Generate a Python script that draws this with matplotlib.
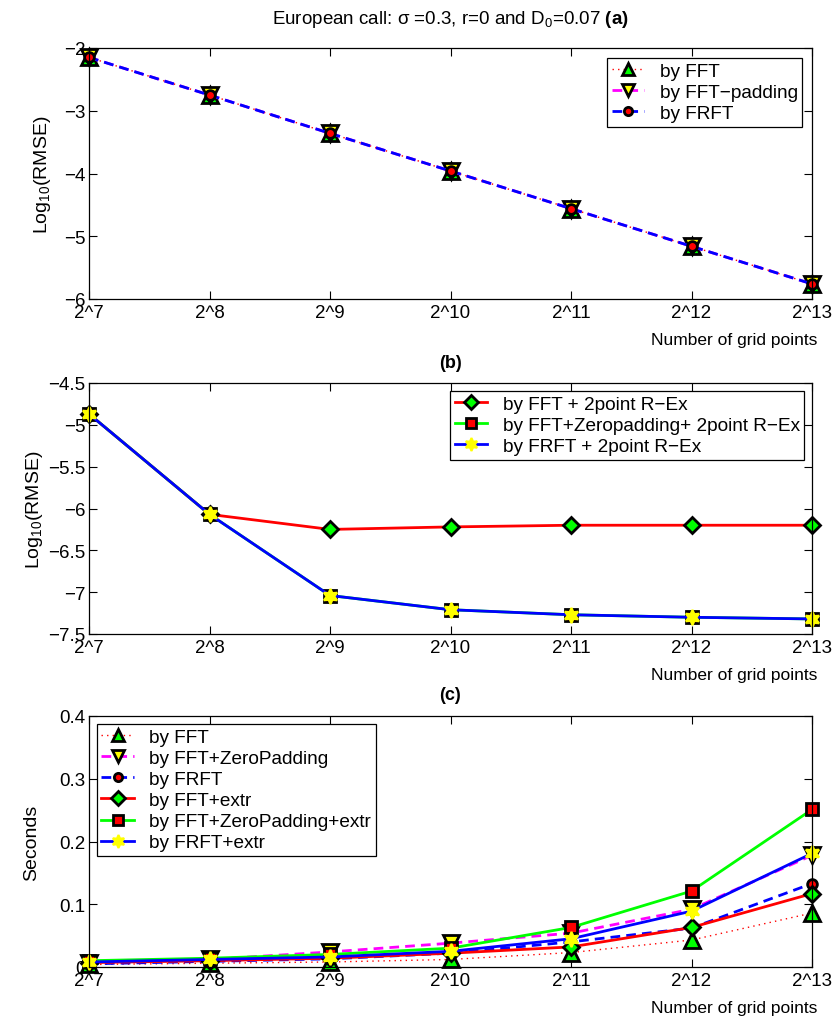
import numpy as np
import matplotlib
matplotlib.use("Agg")
import matplotlib.pyplot as plt

plt.rcParams['font.family'] = ['Liberation Sans', 'DejaVu Sans']
plt.rcParams['mathtext.fontset'] = 'custom'
plt.rcParams['mathtext.rm'] = 'Liberation Sans'
plt.rcParams['mathtext.it'] = 'Liberation Sans:italic'
plt.rcParams['mathtext.bf'] = 'Liberation Sans:bold'
plt.rcParams['lines.dashed_pattern'] = (3.5, 2.2)
plt.rcParams['lines.dotted_pattern'] = (1, 3)

# grid sizes 2^7 .. 2^13
powers = [7, 8, 9, 10, 11, 12, 13]
xlabels = ["2^7", "2^8", "2^9", "2^10", "2^11", "2^12", "2^13"]

# (a) log10 RMSE
rmse_fft = [-2.15, -2.75, -3.36, -3.96, -4.56, -5.16, -5.76]
rmse_pad = [-2.15, -2.75, -3.36, -3.96, -4.56, -5.16, -5.76]
rmse_frft = [-2.15, -2.75, -3.36, -3.96, -4.56, -5.16, -5.76]

# (b) log10 RMSE with 2 point Richardson extrapolation
rex_fft = [-4.87, -6.07, -6.25, -6.22, -6.20, -6.20, -6.20]
rex_pad = [-4.87, -6.07, -7.04, -7.21, -7.27, -7.30, -7.32]
rex_frft = [-4.87, -6.07, -7.04, -7.21, -7.27, -7.30, -7.32]

# (c) cpu time in seconds
t_fft = [0.004, 0.006, 0.008, 0.012, 0.023, 0.043, 0.086]
t_pad = [0.006, 0.012, 0.024, 0.038, 0.054, 0.092, 0.178]
t_frft = [0.005, 0.009, 0.013, 0.022, 0.040, 0.062, 0.133]
t_fft_ex = [0.007, 0.010, 0.014, 0.022, 0.032, 0.063, 0.117]
t_pad_ex = [0.010, 0.014, 0.020, 0.030, 0.063, 0.121, 0.251]
t_frft_ex = [0.008, 0.012, 0.016, 0.025, 0.045, 0.089, 0.181]

W, H = 835, 1020
fig = plt.figure(figsize=(W / 100, H / 100), dpi=100)

left = 89 / W
width = 723 / W
tops = [49, 384, 717]
hgt = 251

MAG = '#ff00ff'
GRN = '#00ff00'
star = (6, 1, 0)  # hexagram
tri = dict(mec='k', mew=2, ms=11)
leg_kw = dict(fontsize=13.7, frameon=True, fancybox=False, edgecolor='k', framealpha=1,
              handlelength=1.7, borderpad=0.25, labelspacing=0.2, handletextpad=0.8,
              markerscale=0.85)


def make_ax(top):
    ax = fig.add_axes([left, 1 - (top + hgt) / H, width, hgt / H])
    ax.set_xlim(7, 13)
    ax.set_xticks(powers)
    ax.set_xticklabels(xlabels)
    ax.tick_params(direction='in', top=True, right=True, length=6, width=0.8,
                   labelsize=13.5)
    ax.tick_params(axis='x', pad=3.5)
    ax.tick_params(axis='y', pad=2.5)
    for s in ax.spines.values():
        s.set_linewidth(0.9)
    ax.text(1.007, -0.163, "Number of grid points", transform=ax.transAxes,
            ha='right', va='center', fontsize=12.5)
    return ax


# (a)
ax1 = make_ax(tops[0])
ax1.plot(powers, rmse_fft, ':', color='r', lw=1, marker='^', mfc=GRN, label='by FFT', **tri)
ax1.plot(powers, rmse_pad, '--', color=MAG, lw=2, marker='v', mfc='yellow', label='by FFT\u2212padding', **tri)
ax1.plot(powers, rmse_frft, '--', color='b', lw=2, marker='o', mfc='r', mec='k', mew=2, ms=7, label='by FRFT')
ax1.set_ylim(-6, -2)
ax1.set_yticks([-6, -5, -4, -3, -2])
ax1.set_ylabel("Log$_{10}$(RMSE)", fontsize=14, labelpad=8)
ax1.legend(loc='upper right', borderaxespad=0.5, **leg_kw).get_frame().set_linewidth(0.9)
fig.text(left + width / 2, 1 - 20 / H,
         "European call: \u03c3 =0.3, r=0 and D$_0$=0.07 $\\bf{(a)}$",
         ha='center', va='center', fontsize=13.5)

# (b)
ax2 = make_ax(tops[1])
ax2.plot(powers, rex_fft, '-', color='r', lw=2, marker='D', mfc=GRN, mec='k', mew=2, ms=8,
         label='by FFT + 2point R\u2212Ex')
ax2.plot(powers, rex_pad, '-', color=GRN, lw=2, marker='s', mfc='r', mec='k', mew=2, ms=8,
         label='by FFT+Zeropadding+ 2point R\u2212Ex')
ax2.plot(powers, rex_frft, '-', color='b', lw=2, marker=star, mfc='yellow', mec='yellow', mew=1.5, ms=11,
         label='by FRFT + 2point R\u2212Ex')
ax2.set_ylim(-7.5, -4.5)
ax2.set_yticks([-7.5, -7, -6.5, -6, -5.5, -5, -4.5])
ax2.set_yticklabels(['\u22127.5', '\u22127', '\u22126.5', '\u22126', '\u22125.5', '\u22125', '\u22124.5'])
ax2.set_ylabel("Log$_{10}$(RMSE)", fontsize=14, labelpad=2)
ax2.text(0.5, 1 + 21 / hgt, "(b)", transform=ax2.transAxes, ha='center', va='center',
         fontsize=13, fontweight='bold')
ax2.legend(loc='upper right', borderaxespad=0.4, **leg_kw).get_frame().set_linewidth(0.9)

# (c)
ax3 = make_ax(tops[2])
ax3.plot(powers, t_fft, ':', color='r', lw=1, marker='^', mfc=GRN, label='by FFT', **tri)
ax3.plot(powers, t_pad, '--', color=MAG, lw=2, marker='v', mfc='yellow', label='by FFT+ZeroPadding', **tri)
ax3.plot(powers, t_frft, '--', color='b', lw=2, marker='o', mfc='r', mec='k', mew=2, ms=7, label='by FRFT')
ax3.plot(powers, t_fft_ex, '-', color='r', lw=2, marker='D', mfc=GRN, mec='k', mew=2, ms=8,
         label='by FFT+extr')
ax3.plot(powers, t_pad_ex, '-', color=GRN, lw=2, marker='s', mfc='r', mec='k', mew=2, ms=8,
         label='by FFT+ZeroPadding+extr')
ax3.plot(powers, t_frft_ex, '-', color='b', lw=2, marker=star, mfc='yellow', mec='yellow', mew=1.5, ms=11,
         label='by FRFT+extr')
ax3.set_ylim(0, 0.4)
ax3.set_yticks([0, 0.1, 0.2, 0.3, 0.4])
ax3.set_yticklabels(['0', '0.1', '0.2', '0.3', '0.4'])
ax3.set_ylabel("Seconds", fontsize=14, labelpad=14)
ax3.text(0.5, 1 + 21 / hgt, "(c)", transform=ax3.transAxes, ha='center', va='center',
         fontsize=13, fontweight='bold')
ax3.legend(loc='upper left', borderaxespad=0.4, **leg_kw).get_frame().set_linewidth(0.9)

for ax in (ax1, ax2, ax3):
    for line in ax.get_lines():
        line.set_clip_on(False)

fig.savefig("out.png", dpi=100)
